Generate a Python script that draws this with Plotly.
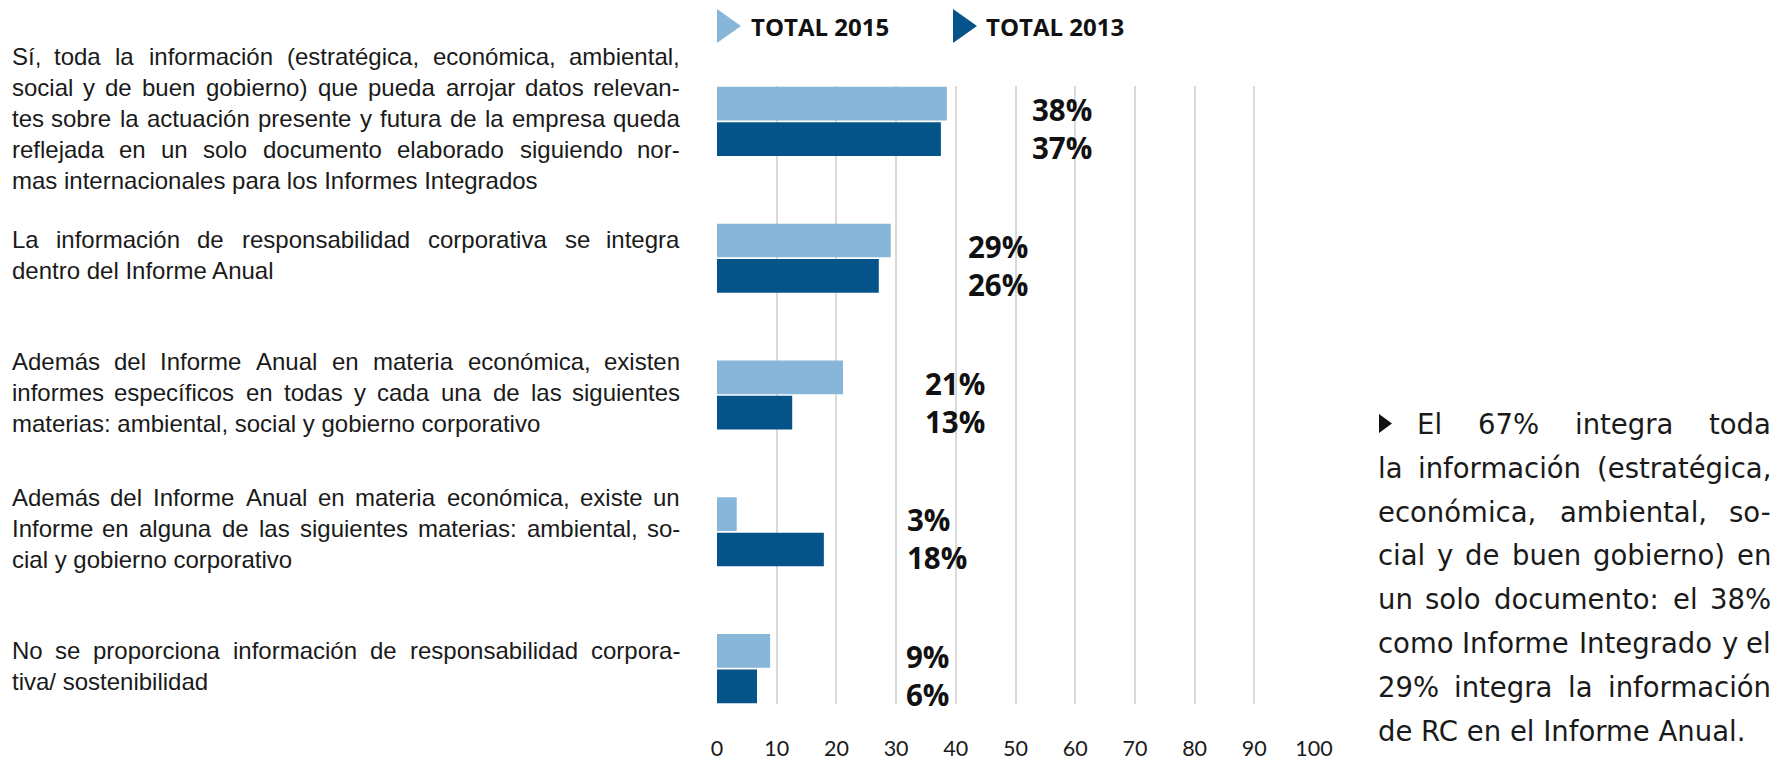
import unicodedata
import plotly.graph_objects as go

# data
categories = [
    "Sí, toda la información (estratégica, económica, ambiental, social y de buen gobierno) que pueda arrojar datos relevantes sobre la actuación presente y futura de la empresa queda reflejada en un solo documento elaborado siguiendo normas internacionales para los Informes Integrados",
    "La información de responsabilidad corporativa se integra dentro del Informe Anual",
    "Además del Informe Anual en materia económica, existen informes específicos en todas y cada una de las siguientes materias: ambiental, social y gobierno corporativo",
    "Además del Informe Anual en materia económica, existe un Informe en alguna de las siguientes materias: ambiental, social y gobierno corporativo",
    "No se proporciona información de responsabilidad corporativa/ sostenibilidad",
]
category_lines = [
    ["Sí, toda la información (estratégica, económica, ambiental,",
     "social y de buen gobierno) que pueda arrojar datos relevan-",
     "tes sobre la actuación presente y futura de la empresa queda",
     "reflejada en un solo documento elaborado siguiendo nor-",
     "mas internacionales para los Informes Integrados"],
    ["La información de responsabilidad corporativa se integra",
     "dentro del Informe Anual"],
    ["Además del Informe Anual en materia económica, existen",
     "informes específicos en todas y cada una de las siguientes",
     "materias: ambiental, social y gobierno corporativo"],
    ["Además del Informe Anual en materia económica, existe un",
     "Informe en alguna de las siguientes materias: ambiental, so-",
     "cial y gobierno corporativo"],
    ["No se proporciona información de responsabilidad corpora-",
     "tiva/ sostenibilidad"],
]
total_2015 = [38.5, 29.1, 21.1, 3.3, 8.9]
total_2013 = [37.5, 27.1, 12.6, 17.9, 6.7]
labels_2015 = ["38%", "29%", "21%", "3%", "9%"]
labels_2013 = ["37%", "26%", "13%", "18%", "6%"]
x_ticks = [0, 10, 20, 30, 40, 50, 60, 70, 80, 90, 100]

note_lines = [
    "El 67% integra toda",
    "la información (estratégica,",
    "económica, ambiental, so-",
    "cial y de buen gobierno) en",
    "un solo documento: el 38%",
    "como Informe Integrado y el",
    "29% integra la información",
    "de RC en el Informe Anual.",
]

light = "#87b6d8"
dark = "#04548a"

# advance widths (1/1000 em) used to spread words for justified lines
ARIAL = dict(zip("abcdefghijklmnopqrstuvwxyz",
                 [556, 556, 500, 556, 556, 278, 556, 556, 222, 222, 500, 222, 833,
                  556, 556, 556, 556, 333, 500, 278, 556, 500, 722, 500, 500, 500]))
ARIAL.update(zip("ABCDEFGHIJKLMNOPQRSTUVWXYZ",
                 [667, 667, 722, 722, 667, 611, 778, 722, 278, 500, 667, 556, 833,
                  722, 778, 667, 778, 722, 667, 611, 722, 667, 944, 667, 667, 611]))
ARIAL.update({c: 556 for c in "0123456789"})
ARIAL.update({" ": 278, ",": 278, ".": 278, ":": 278, "(": 333, ")": 333, "-": 333,
              "/": 278, "%": 889, "í": 278})
DEJAVU = dict(zip("abcdefghijklmnopqrstuvwxyz",
                  [613, 635, 550, 635, 615, 352, 635, 634, 278, 278, 579, 278, 974,
                   634, 612, 635, 635, 411, 521, 392, 634, 592, 818, 592, 592, 525]))
DEJAVU.update({c: 636 for c in "0123456789"})
DEJAVU.update({" ": 318, ",": 318, ".": 318, ":": 337, "(": 390, ")": 390, "-": 361,
               "%": 950, "A": 684, "C": 698, "E": 632, "I": 295, "R": 695})


def text_w(s, table, size):
    tot = 0
    for ch in s:
        if ch not in table:
            ch = unicodedata.normalize("NFD", ch)[0]
        tot += table.get(ch, 556)
    return tot * size / 1000


W, H = 1781, 755
L, R, T, B = 709, 475, 78, 59
pw, ph = W - L - R, H - T - B
OFF = 8  # page offset of the plot div


def fx(p):
    return (p - OFF - L) / pw


def fy(p):
    return (H - B - (p - OFF)) / ph


ann = []


def place_line(line, left, right, pos, font, table, justify):
    words = line.split(" ")
    if not justify or len(words) == 1:
        ann.append(dict(x=fx(left), xref="paper", xanchor="left", text=line,
                        showarrow=False, borderpad=0, font=font, **pos))
        return
    widths = [text_w(w, table, font["size"]) for w in words]
    gap = (right - left - sum(widths)) / (len(words) - 1)
    x = left
    for k, (word, wd) in enumerate(zip(words, widths)):
        if k == 0:
            xa, xv = "left", x
        elif k == len(words) - 1:
            xa, xv = "right", right
        else:
            xa, xv = "center", x + wd / 2
        ann.append(dict(x=fx(xv), xref="paper", xanchor=xa, text=word,
                        showarrow=False, borderpad=0, font=font, **pos))
        x += wd + gap


fig = go.Figure()
fig.add_trace(go.Bar(y=categories, x=total_2015, orientation="h", name="TOTAL 2015",
                     marker=dict(color=light, line_width=0)))
fig.add_trace(go.Bar(y=categories, x=total_2013, orientation="h", name="TOTAL 2013",
                     marker=dict(color=dark, line_width=0)))

# left category texts, justified
left_font = dict(family="Liberation Sans", size=24, color="#1a1a1a")
for i, lines in enumerate(category_lines):
    n = len(lines)
    for j, line in enumerate(lines):
        pos = dict(y=categories[i], yref="y", yanchor="middle",
                   yshift=-(j - (n - 1) / 2) * 31 + 3)
        place_line(line, 11, 681, pos, left_font, ARIAL, j < n - 1)

# value labels, one two-line block per category
label_x = [52.6, 41.8, 34.7, 31.7, 31.5]
for i in range(len(categories)):
    ann.append(dict(x=label_x[i], y=categories[i], xanchor="left", yanchor="middle",
                    align="left", text=f"{labels_2015[i]}<br>{labels_2013[i]}",
                    showarrow=False, yshift=-7, borderpad=0,
                    font=dict(family="Open Sans", size=29.5, color="#111111", weight="bold")))

# legend texts
for x0, name in ((750, "TOTAL 2015"), (985, "TOTAL 2013")):
    ann.append(dict(x=fx(x0), y=fy(27), xref="paper", yref="paper", xanchor="left",
                    yanchor="middle", text=name, showarrow=False, borderpad=0,
                    font=dict(family="Open Sans", size=24, color="#111111", weight="bold")))

# side note, justified
note_font = dict(family="DejaVu Sans", size=27.5, color="#1a1a1a")
for j, line in enumerate(note_lines):
    pos = dict(y=fy(424 + j * 43.8), yref="paper", yanchor="middle")
    place_line(line, 1416 if j == 0 else 1377, 1772, pos, note_font, DEJAVU,
               j < len(note_lines) - 1)


def tri(x0, y0, w, h, color):
    return dict(type="path", xref="paper", yref="paper", line_width=0, fillcolor=color,
                path=f"M{fx(x0)},{fy(y0)} L{fx(x0 + w)},{fy(y0 + h / 2)} L{fx(x0)},{fy(y0 + h)} Z")


shapes = [tri(717, 9, 24, 34, light), tri(953, 9, 24, 34, dark),
          tri(1379, 414, 13, 19, "#111111")]

fig.update_layout(
    width=W, height=H,
    margin=dict(l=L, r=R, t=T, b=B, autoexpand=False),
    plot_bgcolor="white", paper_bgcolor="white",
    barmode="group", bargap=0.483, bargroupgap=0.047,
    showlegend=False,
    annotations=ann, shapes=shapes,
    xaxis=dict(range=[0, 100], tickvals=x_ticks, showgrid=True, gridcolor="#d9d9d9",
               gridwidth=1.5, zeroline=False, showline=False, ticks="",
               ticklabelstandoff=29, automargin=False,
               tickfont=dict(family="Lato", size=21.5, color="#1a1a1a")),
    yaxis=dict(type="category", categoryarray=categories, categoryorder="array",
               range=[4.2586, -0.2586], showticklabels=False, showgrid=False,
               zeroline=False, showline=False, ticks="", automargin=False),
)

fig.write_html("out.html")
